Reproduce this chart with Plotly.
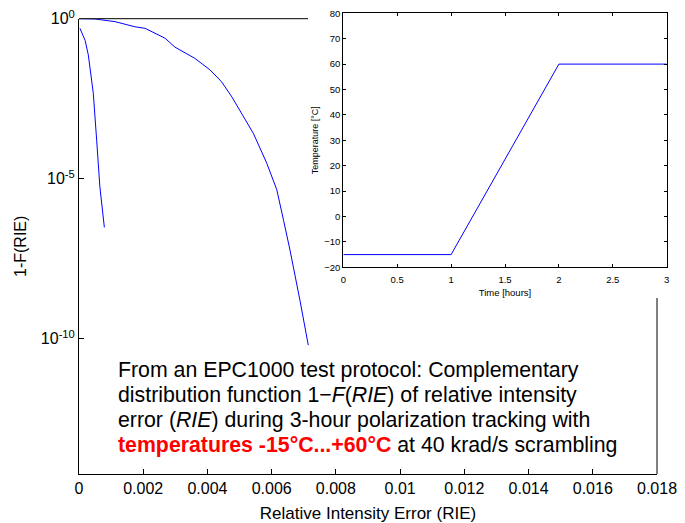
import plotly.graph_objects as go

# Main chart: complementary distribution 1-F(RIE)
rie_a = [0.00003, 0.00019, 0.00029, 0.000445, 0.00055, 0.00065, 0.00079]
cdf_a = [0.5, 0.21, 0.074, 4.7e-3, 1.6e-4, 5.6e-6, 3.0e-7]

rie_b = [0, 0.0005, 0.00112, 0.00174, 0.00206, 0.00268, 0.00299, 0.00361, 0.00408,
         0.00444, 0.00476, 0.00507, 0.00543, 0.00585, 0.00616, 0.00637, 0.00657,
         0.00688, 0.00714]
cdf_b = [1, 0.98, 0.81, 0.56, 0.50, 0.245, 0.129, 0.0575, 0.0251,
         0.0107, 3.6e-3, 1.1e-3, 2.6e-4, 3.0e-5, 4.5e-6, 5.0e-7, 5.9e-8,
         1.6e-9, 6.3e-11]

# Inset: temperature profile
time_h = [0, 1, 2, 3]
temp_c = [-15, -15, 60, 60]

x_ticks = [0, 0.002, 0.004, 0.006, 0.008, 0.01, 0.012, 0.014, 0.016, 0.018]
x_ticktext = ["0", "0.002", "0.004", "0.006", "0.008", "0.01", "0.012", "0.014", "0.016", "0.018"]
y_ticks = [1, 1e-5, 1e-10]
y_ticktext = ["10<sup>0</sup>", "10<sup>-5</sup>", "10<sup>-10</sup>"]

caption_lines = [
    "From an EPC1000 test protocol: Complementary",
    "distribution function 1\u2212<i>F</i>(<i>RIE</i>) of relative intensity",
    "error (<i>RIE</i>) during 3-hour polarization tracking with",
    "<span style='color:#ff0000'><b>temperatures -15°C...+60°C</b></span> at 40 krad/s scrambling",
]

W, H = 685, 523
FONT = "Liberation Sans, Arial, sans-serif"
BLUE = "#0000ff"

# pixel geometry
mx0, mx1, my0, my1 = 79, 657, 18.7, 474
ix0, ix1, iy0, iy1 = 343.3, 666.7, 13.3, 267.3

def px(v):
    return v / W

def py(v):
    return 1 - v / H

fig = go.Figure()
fig.add_trace(go.Scatter(x=rie_a, y=cdf_a, mode="lines", line=dict(color=BLUE, width=1),
                         xaxis="x", yaxis="y", showlegend=False))
fig.add_trace(go.Scatter(x=rie_b, y=cdf_b, mode="lines", line=dict(color=BLUE, width=1),
                         xaxis="x", yaxis="y", showlegend=False))
fig.add_trace(go.Scatter(x=time_h, y=temp_c, mode="lines", line=dict(color=BLUE, width=1),
                         xaxis="x2", yaxis="y2", showlegend=False))

fig.update_layout(
    width=W, height=H,
    margin=dict(l=0, r=0, t=0, b=0, autoexpand=False),
    paper_bgcolor="white", plot_bgcolor="rgba(0,0,0,0)",
    font=dict(family=FONT, color="black"),
    xaxis=dict(domain=[px(mx0), px(mx1)], range=[0, 0.018], anchor="y", automargin=False,
               tickvals=x_ticks, ticktext=x_ticktext, ticks="inside", ticklen=5,
               tickcolor="black", showline=True, linecolor="black", linewidth=1,
               showgrid=False, zeroline=False, tickfont=dict(size=16),
               title=dict(text="Relative Intensity Error (RIE)", font=dict(size=17), standoff=12)),
    yaxis=dict(domain=[py(my1), py(my0)], type="log", range=[-14.23, 0], anchor="x", automargin=False,
               tickvals=y_ticks, ticktext=y_ticktext, ticks="inside", ticklen=5,
               tickcolor="black", showline=True, linecolor="black", linewidth=1,
               showgrid=False, zeroline=False, tickfont=dict(size=16),
               title=dict(text="1-F(RIE)", font=dict(size=16), standoff=10)),
    xaxis3=dict(overlaying="x", side="top", anchor="y", range=[0, 0.018], automargin=False,
                tickvals=[0.002, 0.004, 0.006], ticks="inside", ticklen=5, tickcolor="black",
                showticklabels=False, showline=False, showgrid=False, zeroline=False),
    yaxis3=dict(overlaying="y", side="right", anchor="x", type="log", range=[-14.23, 0], automargin=False,
                tickvals=[1e-10], ticks="inside", ticklen=5, tickcolor="black",
                showticklabels=False, showline=False, showgrid=False, zeroline=False),
    xaxis2=dict(domain=[px(ix0), px(ix1)], range=[0, 3], anchor="y2", automargin=False,
                tickvals=[0, 0.5, 1, 1.5, 2, 2.5, 3], ticktext=["0", "0.5", "1", "1.5", "2", "2.5", "3"],
                ticks="inside", ticklen=3, tickcolor="black", mirror="ticks",
                showline=True, linecolor="black", linewidth=1, showgrid=False, zeroline=False,
                tickfont=dict(size=9.5), ticklabelstandoff=3,
                title=dict(text="Time [hours]", font=dict(size=9.5), standoff=5)),
    yaxis2=dict(domain=[py(iy1), py(iy0)], range=[-20, 80], anchor="x2", automargin=False,
                tickvals=list(range(-20, 81, 10)), ticks="inside", ticklen=3, tickcolor="black",
                mirror="ticks", showline=True, linecolor="black", linewidth=1,
                showgrid=False, zeroline=False, tickfont=dict(size=9.5),
                title=dict(text="Temperature [°C]", font=dict(size=9), standoff=4)),
)

# white backdrop for the inset (covers main axes frame there)
fig.add_shape(type="rect", xref="paper", yref="paper", layer="below",
              x0=px(308), x1=1, y0=py(297), y1=1, fillcolor="white", line=dict(width=0))

# visible parts of the main frame (top and right)
fig.add_shape(type="line", xref="paper", yref="paper", x0=px(mx0), x1=px(308),
              y0=py(my0), y1=py(my0), line=dict(color="black", width=1))
fig.add_shape(type="line", xref="paper", yref="paper", x0=px(mx1), x1=px(mx1),
              y0=py(298), y1=py(my1), line=dict(color="black", width=1))

# caption, one annotation per line for exact line spacing
for i, line in enumerate(caption_lines):
    fig.add_annotation(
        xref="paper", yref="paper", x=px(116), y=py(370 + 25 * i), xanchor="left",
        yanchor="middle", align="left", showarrow=False,
        font=dict(size=21.3, family=FONT, color="black"), text=line,
    )

fig.write_html("out.html", config={"displayModeBar": False},
               post_script="document.body.style.margin='0';document.body.style.padding='0';")
